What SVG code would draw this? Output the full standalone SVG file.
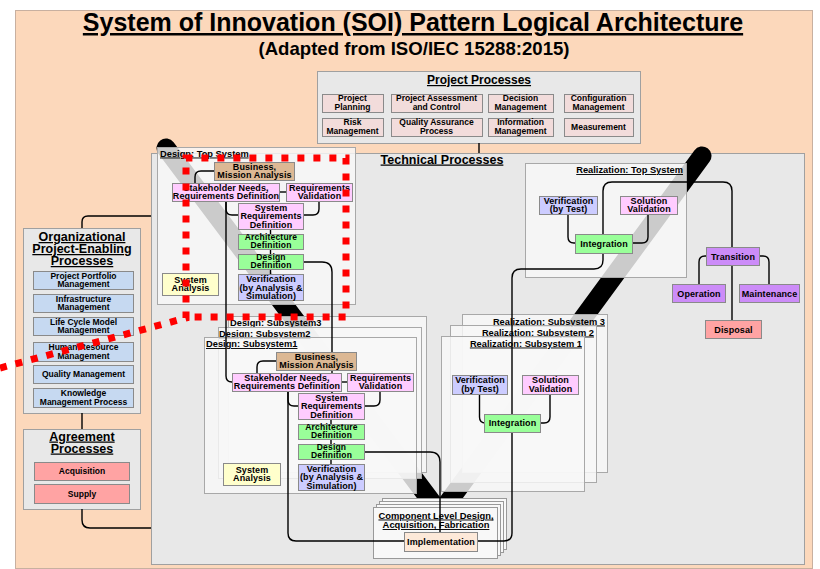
<svg xmlns="http://www.w3.org/2000/svg" width="820" height="569" viewBox="0 0 820 569">
<style>
text{font-family:"Liberation Sans",Arial,sans-serif;font-weight:bold;fill:#000}
.t9{font-size:9px;text-anchor:middle;letter-spacing:0.1px}
.t8{font-size:8.5px;text-anchor:middle;letter-spacing:0.2px}
.t85{font-size:8.5px;text-anchor:middle}
.lbl{font-size:9.3px;text-decoration:underline}
.ul{text-decoration:underline}
.box{fill:#e8e8e8;stroke:#a0a0a0;stroke-width:1}
.cont{fill:#f8f8f8;fill-opacity:0.82;stroke:#a8a8a8;stroke-width:1}
.stk{fill:#f8f8f8;stroke:#999;stroke-width:1}
.n{stroke:#8a8a8a;stroke-width:1}
.pp{fill:#f2dcdb}
.org{fill:#c6d9f1}
.red{fill:#ffa3a3}
.biz{fill:#dcb894}
.pink{fill:#ffccff}
.green{fill:#99ff99}
.blue{fill:#ccccff}
.yel{fill:#ffffcc}
.purp{fill:#cc8cf8}
.impl{fill:#fde9d9}
.c{fill:none;stroke:#000;stroke-width:1.4}
.band{stroke:#000;stroke-width:19;fill:none}
.dots{fill:none;stroke:#ff0000;stroke-width:7;stroke-dasharray:7 9}
</style>
<rect x="0" y="0" width="820" height="569" fill="#ffffff"/>
<rect x="15.5" y="10.5" width="797" height="558" fill="#fcd8bb" stroke="#c8b0a0" stroke-width="1"/>
<text x="413" y="31" font-size="25" text-anchor="middle" class="ul">System of Innovation (SOI) Pattern Logical Architecture</text>
<text x="414" y="55" font-size="18.6" text-anchor="middle">(Adapted from ISO/IEC 15288:2015)</text>

<g id="project-processes">
<rect class="box" x="317.5" y="71.5" width="323" height="72"/>
<text x="479" y="84" font-size="12" text-anchor="middle" class="ul">Project Processes</text>
<rect class="n pp" x="322.5" y="94.5" width="61" height="18"/>
<text class="t85" x="352.5" y="101.3">Project<tspan x="352.5" dy="9">Planning</tspan></text>
<rect class="n pp" x="391.5" y="94.5" width="91" height="18"/>
<text class="t85" x="436.5" y="101.3">Project Assessment<tspan x="436.5" dy="9">and Control</tspan></text>
<rect class="n pp" x="488.5" y="94.5" width="65" height="18"/>
<text class="t85" x="520.5" y="101.3">Decision<tspan x="520.5" dy="9">Management</tspan></text>
<rect class="n pp" x="564.5" y="94.5" width="69" height="18"/>
<text class="t85" x="598.5" y="101.3">Configuration<tspan x="598.5" dy="9">Management</tspan></text>
<rect class="n pp" x="322.5" y="118.5" width="61" height="18"/>
<text class="t85" x="352.5" y="125.3">Risk<tspan x="352.5" dy="8.6">Management</tspan></text>
<rect class="n pp" x="391.5" y="118.5" width="91" height="18"/>
<text class="t85" x="436.5" y="125.3">Quality Assurance<tspan x="436.5" dy="8.6">Process</tspan></text>
<rect class="n pp" x="488.5" y="118.5" width="65" height="18"/>
<text class="t85" x="520.5" y="125.3">Information<tspan x="520.5" dy="8.6">Management</tspan></text>
<rect class="n pp" x="564.5" y="118.5" width="69" height="18"/>
<text class="t85" x="598.5" y="130">Measurement</text>
</g>

<g id="organizational-processes">
<rect class="box" x="23.5" y="228.5" width="117" height="185"/>
<text x="82" y="241" font-size="12.5" text-anchor="middle" class="ul">Organizational</text>
<text x="82" y="253" font-size="12.5" text-anchor="middle" class="ul">Project-Enabling</text>
<text x="82" y="265" font-size="12.5" text-anchor="middle" class="ul">Processes</text>
<rect class="n org" x="33.5" y="271.5" width="100" height="18"/>
<text class="t85" x="83.5" y="278.8">Project Portfolio<tspan x="83.5" dy="8.6">Management</tspan></text>
<rect class="n org" x="33.5" y="294.5" width="100" height="18"/>
<text class="t85" x="83.5" y="301.8">Infrastructure<tspan x="83.5" dy="8.6">Management</tspan></text>
<rect class="n org" x="33.5" y="317.5" width="100" height="18"/>
<text class="t85" x="83.5" y="324.8">Life Cycle Model<tspan x="83.5" dy="8.6">Management</tspan></text>
<rect class="n org" x="33.5" y="342.5" width="100" height="19"/>
<text class="t85" x="83.5" y="350.2">Human Resource<tspan x="83.5" dy="8.6">Management</tspan></text>
<rect class="n org" x="33.5" y="365.5" width="100" height="18"/>
<text class="t85" x="83.5" y="377.3">Quality Management</text>
<rect class="n org" x="33.5" y="388.5" width="100" height="19"/>
<text class="t85" x="83.5" y="396.2">Knowledge<tspan x="83.5" dy="8.6">Management Process</tspan></text>
</g>

<g id="agreement-processes">
<rect class="box" x="23.5" y="429.5" width="117" height="80"/>
<text x="82" y="440.5" font-size="12.5" text-anchor="middle" class="ul">Agreement</text>
<text x="82" y="452.5" font-size="12.5" text-anchor="middle" class="ul">Processes</text>
<rect class="n red" x="34.5" y="462.5" width="95" height="18"/>
<text class="t85" x="82" y="474.3">Acquisition</text>
<rect class="n red" x="34.5" y="484.5" width="95" height="19"/>
<text class="t85" x="82" y="496.8">Supply</text>
</g>

<g id="technical-processes">
<rect class="box" x="151.5" y="153.5" width="653" height="411"/>
<text x="442" y="163.5" font-size="12.5" text-anchor="middle" class="ul">Technical Processes</text>
</g>

<g id="bands">
<path class="band" d="M166,148 L434,505" stroke-linecap="round"/>
<path class="band" d="M702,156 L446,505" stroke-linecap="round"/>
</g>

<g id="design-top-system">
<rect class="cont" x="157.5" y="147.5" width="198" height="157"/>
<text class="lbl" x="160" y="156.5">Design: Top System</text>
</g>
<g id="design-subsystem3">
<rect class="cont" x="228.5" y="316.5" width="198" height="156"/>
<text class="lbl" x="230" y="326">Design: Subsystem3</text>
</g>
<g id="design-subsystem2">
<rect class="cont" x="218.5" y="327.5" width="203" height="151"/>
<text class="lbl" x="219" y="337">Design: Subsystem2</text>
</g>
<g id="design-subsystem1">
<rect class="cont" x="204.5" y="337.5" width="212" height="156"/>
<text class="lbl" x="206" y="347">Design: Subsystem1</text>
</g>
<g id="realization-top-system">
<rect class="cont" x="525.5" y="163.5" width="161" height="114"/>
<text class="lbl" x="683" y="173" text-anchor="end">Realization: Top System</text>
</g>
<g id="realization-subsystem3">
<rect class="cont" x="462.5" y="314.5" width="145" height="158"/>
<text class="lbl" x="605" y="324.5" text-anchor="end">Realization: Subsystem 3</text>
</g>
<g id="realization-subsystem2">
<rect class="cont" x="450.5" y="325.5" width="146" height="157"/>
<text class="lbl" x="594" y="335.5" text-anchor="end">Realization: Subsystem 2</text>
</g>
<g id="realization-subsystem1">
<rect class="cont" x="441.5" y="336.5" width="143" height="155"/>
<text class="lbl" x="582" y="346.5" text-anchor="end">Realization: Subsystem 1</text>
</g>
<g id="component-level">
<rect class="stk" x="382.5" y="498.5" width="124" height="51"/>
<rect class="stk" x="379.5" y="501.5" width="124" height="51"/>
<rect class="stk" x="376.5" y="504.5" width="124" height="51"/>
<rect class="stk" x="373.5" y="507.5" width="124" height="51"/>
<text x="436" y="518.5" font-size="9.4" text-anchor="middle" class="ul">Component Level Design,</text>
<text x="436" y="528" font-size="9.4" text-anchor="middle" class="ul">Acquisition, Fabrication</text>
</g>

<g id="connectors">
<path class="c" d="M479,143 V153"/>
<path class="c" d="M82,228 V222 Q82,216 88,216 H151"/>
<path class="c" d="M82,413 V429"/>
<path class="c" d="M82,509 V520 Q82,528 90,528 H151"/>
<path class="c" d="M214,171 H201 Q195,171 195,177 V183"/>
<path class="c" d="M279,192 H286"/>
<path class="c" d="M319,201 V209 Q319,215 313,215 H303"/>
<path class="c" d="M226,201 V209 Q226,215 232,215 H238"/>
<path class="c" d="M226,201 V376 Q226,382 232,382"/>
<path class="c" d="M270.5,229 V274"/>
<path class="c" d="M303,262 H322 Q332,262 332,272 V393"/>
<path class="c" d="M276,361 H263 Q257,361 257,367 V373"/>
<path class="c" d="M341,382 H347"/>
<path class="c" d="M380,391 V400 Q380,406 374,406 H364"/>
<path class="c" d="M288,391 V400 Q288,406 294,406 H298"/>
<path class="c" d="M331,419 V464"/>
<path class="c" d="M288,391 V533 Q288,541 296,541 H404"/>
<path class="c" d="M364,452 H430 Q440,452 440,462 V532"/>
<path class="c" d="M477,541 H504 Q512,541 512,533 V278 Q512,269 521,269 H594 Q603,269 603,260 V253"/>
<path class="c" d="M603,234 V191 Q603,182 612,182 H723 Q732,182 732,191 V247"/>
<path class="c" d="M568,214 V237 Q568,243 574,243 H575"/>
<path class="c" d="M648,214 V237 Q648,243 642,243 H632"/>
<path class="c" d="M706,256 H705 Q699,256 699,262 V284"/>
<path class="c" d="M759,256 H763 Q769,256 769,262 V284"/>
<path class="c" d="M732,265 V320"/>
<path class="c" d="M479.5,394 V417 Q479.5,423 485.5,423"/>
<path class="c" d="M550,394 V417 Q550,423 544,423 H540"/>
</g>

<g id="dt-business"><rect class="n biz" x="214.5" y="162.5" width="80" height="18"/><text class="t9" x="254.5" y="169.8">Business,<tspan x="254.5" dy="8.6">Mission Analysis</tspan></text></g>
<g id="dt-stakeholder"><rect class="n pink" x="172.5" y="183.5" width="107" height="18"/><text class="t9" x="226" y="190.8">Stakeholder Needs,<tspan x="226" dy="8.6">Requirements Definition</tspan></text></g>
<g id="dt-req-validation"><rect class="n pink" x="286.5" y="183.5" width="66" height="18"/><text class="t9" x="319.5" y="190.8">Requirements<tspan x="319.5" dy="8.6">Validation</tspan></text></g>
<g id="dt-system-req"><rect class="n pink" x="238.5" y="203.5" width="65" height="26"/><text class="t9" x="271" y="210.5">System<tspan x="271" dy="8.5">Requirements</tspan><tspan x="271" dy="8.5">Definition</tspan></text></g>
<g id="dt-architecture"><rect class="n green" x="238.5" y="234.5" width="65" height="15"/><text class="t8" x="271" y="240.3">Architecture<tspan x="271" dy="8">Definition</tspan></text></g>
<g id="dt-design"><rect class="n green" x="238.5" y="254.5" width="65" height="15"/><text class="t8" x="271" y="260.3">Design<tspan x="271" dy="8">Definition</tspan></text></g>
<g id="dt-verification"><rect class="n blue" x="238.5" y="274.5" width="65" height="26"/><text class="t9" x="271" y="282">Verification<tspan x="271" dy="8.5">(by Analysis &amp;</tspan><tspan x="271" dy="8.5">Simulation)</tspan></text></g>
<g id="dt-system-analysis"><rect class="n yel" x="162.5" y="273.5" width="56" height="22"/><text class="t9" x="190.5" y="282.8">System<tspan x="190.5" dy="8.6">Analysis</tspan></text></g>

<g id="ds1-business"><rect class="n biz" x="276.5" y="352.5" width="80" height="18"/><text class="t9" x="316.5" y="359.8">Business,<tspan x="316.5" dy="8.6">Mission Analysis</tspan></text></g>
<g id="ds1-stakeholder"><rect class="n pink" x="232.5" y="373.5" width="109" height="18"/><text class="t9" x="287" y="380.8">Stakeholder Needs,<tspan x="287" dy="8.6">Requirements Definition</tspan></text></g>
<g id="ds1-req-validation"><rect class="n pink" x="347.5" y="373.5" width="66" height="18"/><text class="t9" x="380.5" y="380.8">Requirements<tspan x="380.5" dy="8.6">Validation</tspan></text></g>
<g id="ds1-system-req"><rect class="n pink" x="298.5" y="393.5" width="66" height="26"/><text class="t9" x="331.5" y="400.5">System<tspan x="331.5" dy="8.5">Requirements</tspan><tspan x="331.5" dy="8.5">Definition</tspan></text></g>
<g id="ds1-architecture"><rect class="n green" x="298.5" y="424.5" width="66" height="15"/><text class="t8" x="331.5" y="430.1">Architecture<tspan x="331.5" dy="8">Definition</tspan></text></g>
<g id="ds1-design"><rect class="n green" x="298.5" y="444.5" width="66" height="15"/><text class="t8" x="331.5" y="450.1">Design<tspan x="331.5" dy="8">Definition</tspan></text></g>
<g id="ds1-verification"><rect class="n blue" x="298.5" y="464.5" width="66" height="26"/><text class="t9" x="331.5" y="471.5">Verification<tspan x="331.5" dy="8.5">(by Analysis &amp;</tspan><tspan x="331.5" dy="8.5">Simulation)</tspan></text></g>
<g id="ds1-system-analysis"><rect class="n yel" x="223.5" y="463.5" width="57" height="22"/><text class="t9" x="252" y="472.8">System<tspan x="252" dy="8.6">Analysis</tspan></text></g>

<g id="rt-verification"><rect class="n blue" x="539.5" y="196.5" width="58" height="18"/><text class="t9" x="568.5" y="203.8">Verification<tspan x="568.5" dy="8.6">(by Test)</tspan></text></g>
<g id="rt-solution-validation"><rect class="n pink" x="620.5" y="196.5" width="57" height="18"/><text class="t9" x="649" y="203.8">Solution<tspan x="649" dy="8.6">Validation</tspan></text></g>
<g id="rt-integration"><rect class="n green" x="575.5" y="234.5" width="57" height="19"/><text class="t9" x="604" y="247">Integration</text></g>
<g id="transition"><rect class="n purp" x="706.5" y="247.5" width="53" height="18"/><text class="t9" x="733" y="259.5">Transition</text></g>
<g id="operation"><rect class="n purp" x="672.5" y="284.5" width="53" height="18"/><text class="t9" x="699" y="296.5">Operation</text></g>
<g id="maintenance"><rect class="n purp" x="739.5" y="284.5" width="60" height="18"/><text class="t9" x="769.5" y="296.5">Maintenance</text></g>
<g id="disposal"><rect class="n red" x="705.5" y="320.5" width="56" height="18"/><text class="t9" x="733.5" y="332.5">Disposal</text></g>

<g id="rs1-verification"><rect class="n blue" x="452.5" y="375.5" width="55" height="19"/><text class="t9" x="480" y="383.3">Verification<tspan x="480" dy="8.6">(by Test)</tspan></text></g>
<g id="rs1-solution-validation"><rect class="n pink" x="522.5" y="375.5" width="56" height="19"/><text class="t9" x="550.5" y="383.3">Solution<tspan x="550.5" dy="8.6">Validation</tspan></text></g>
<g id="rs1-integration"><rect class="n green" x="484.5" y="414.5" width="56" height="18"/><text class="t9" x="512.5" y="426.3">Integration</text></g>

<g id="implementation"><rect class="n impl" x="404.5" y="532.5" width="73" height="19"/><text class="t9" x="441" y="545">Implementation</text></g>

<g id="scope-marker">
<path class="dots" d="M0,368 L186,318 V158 H346 V317 H186"/>
</g>
</svg>
